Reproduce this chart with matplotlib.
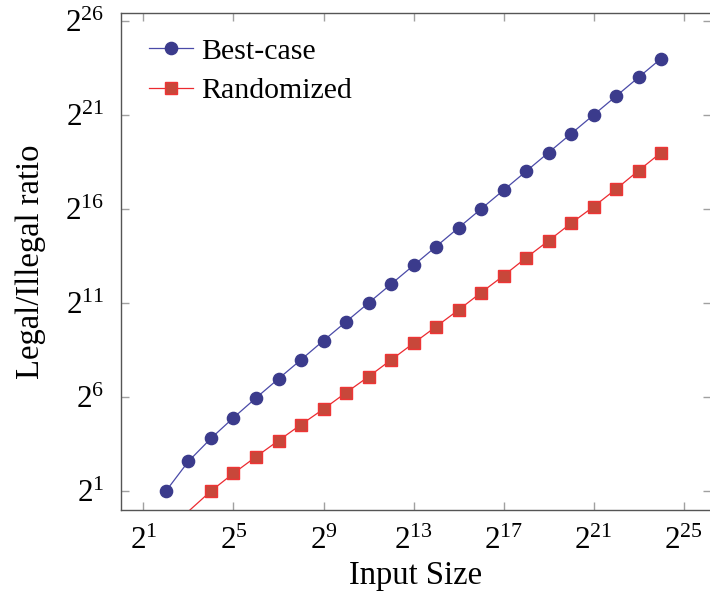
import numpy as np
import matplotlib
matplotlib.use('Agg')
import matplotlib.pyplot as plt
from matplotlib.ticker import FixedLocator, FuncFormatter, NullLocator

plt.rcParams['font.family'] = ['Liberation Serif', 'DejaVu Serif']
plt.rcParams['mathtext.fontset'] = 'custom'
plt.rcParams['mathtext.rm'] = 'Liberation Serif'
plt.rcParams['mathtext.it'] = 'Liberation Serif:italic'

# exponents (value = 2**exp)
best_x_exp = [2, 3, 4, 5, 6, 7, 8, 9, 10, 11, 12, 13, 14, 15, 16, 17, 18, 19, 20, 21, 22, 23, 24]
best_y_exp = [1.0, 2.58, 3.8, 4.9, 5.95, 6.97, 7.98, 9.0, 10.0, 11.0, 12.0, 13.0,
              14.0, 15.0, 16.0, 17.0, 18.0, 19.0, 20.0, 21.0, 22.0, 23.0, 24.0]

rand_x_exp = [3, 4, 5, 6, 7, 8, 9, 10, 11, 12, 13, 14, 15, 16, 17, 18, 19, 20, 21, 22, 23, 24]
rand_y_exp = [-0.08, 1.0, 1.94, 2.82, 3.68, 4.53, 5.36, 6.23, 7.08, 7.97, 8.86, 9.74,
              10.63, 11.55, 12.45, 13.4, 14.31, 15.24, 16.12, 17.06, 18.04, 19.0]

x_ticks_exp = [1, 5, 9, 13, 17, 21, 25]
y_ticks_exp = [1, 6, 11, 16, 21, 26]

best_x = 2.0 ** np.array(best_x_exp)
best_y = 2.0 ** np.array(best_y_exp)
rand_x = 2.0 ** np.array(rand_x_exp)
rand_y = 2.0 ** np.array(rand_y_exp)

fig = plt.figure(figsize=(7.10, 5.93), dpi=100)
ax = fig.add_axes([0.1704, 0.140, 0.8310, 0.8376])

ax.plot(best_x, best_y, color='#4a4aa8', lw=0.9, marker='o', markersize=8.8,
        markerfacecolor='#3b3b8c', markeredgecolor='#3b3b8c', label='Best-case')
# the first randomized point lies below the plotted range, only its line shows
ax.plot(rand_x, rand_y, color='#ec2a30', lw=0.9, marker='s', markersize=8.2,
        markevery=list(range(1, len(rand_x))),
        markerfacecolor='#c8473a', markeredgecolor='#ee3535', markeredgewidth=1.0,
        label='Randomized')

ax.set_xscale('log', base=2)
ax.set_yscale('log', base=2)
ax.set_xlim(2.0 ** 0, 2.0 ** 26.22)
ax.set_ylim(2.0 ** -0.01, 2.0 ** 26.41)

fmt = FuncFormatter(lambda v, p: r'$2^{%d}$' % int(round(np.log2(v))))
ax.xaxis.set_major_locator(FixedLocator(2.0 ** np.array(x_ticks_exp)))
ax.yaxis.set_major_locator(FixedLocator(2.0 ** np.array(y_ticks_exp)))
ax.xaxis.set_minor_locator(NullLocator())
ax.yaxis.set_minor_locator(NullLocator())
ax.xaxis.set_major_formatter(fmt)
ax.yaxis.set_major_formatter(fmt)

ax.tick_params(which='major', direction='in', length=6, width=1.0, color='#a0a0a0',
               top=True, right=True, labelsize=22.5)
ax.tick_params(axis='x', pad=12)
ax.tick_params(axis='y', pad=12)
for s in ax.spines.values():
    s.set_color('#555555')
    s.set_linewidth(1.0)

ax.set_xlabel('Input Size', fontsize=23.5, labelpad=3)
ax.set_ylabel('Legal/Illegal ratio', fontsize=23.5, labelpad=14)

ax.legend(loc='upper left', frameon=False, fontsize=21.5, handlelength=1.5,
          handletextpad=0.25, labelspacing=0.42, borderaxespad=0.25,
          bbox_to_anchor=(0.014, 0.99))

fig.savefig('out.png', dpi=100)
